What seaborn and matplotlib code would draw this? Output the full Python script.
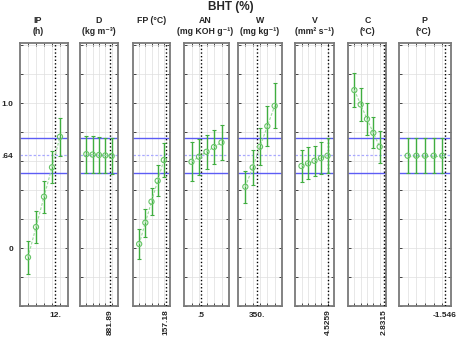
import numpy as np
import pandas as pd
import matplotlib
matplotlib.use('Agg')
import matplotlib.pyplot as plt
import seaborn as sns

# Profile fuer die Wuenschbarkeit - BHT (%)
headers = ['IP\n(h)', 'D\n(kg m⁻³)', 'FP (°C)', 'AN\n(mg KOH g⁻¹)',
           'W\n(mg kg⁻¹)', 'V\n(mm² s⁻¹)', 'C\n(°C)', 'P\n(°C)']
levels = [1, 2, 3, 4, 5]

ip_pred = [-0.064, 0.145, 0.354, 0.557, 0.768]
ip_err = [0.115, 0.108, 0.110, 0.110, 0.130]
d_pred = [0.648, 0.645, 0.642, 0.639, 0.635]
d_err = [0.128, 0.125, 0.122, 0.122, 0.125]
fp_pred = [0.028, 0.175, 0.320, 0.464, 0.607]
fp_err = [0.106, 0.097, 0.095, 0.107, 0.115]
an_pred = [0.595, 0.630, 0.664, 0.697, 0.729]
an_err = [0.135, 0.125, 0.118, 0.120, 0.123]
w_pred = [0.423, 0.556, 0.699, 0.841, 0.981]
w_err = [0.112, 0.122, 0.128, 0.140, 0.155]
v_pred = [0.566, 0.584, 0.602, 0.621, 0.637]
v_err = [0.113, 0.110, 0.104, 0.110, 0.120]
c_pred = [1.090, 0.991, 0.890, 0.795, 0.699]
c_err = [0.120, 0.112, 0.109, 0.107, 0.112]
p_pred = [0.637, 0.637, 0.637, 0.637, 0.637]
p_err = [0.120, 0.120, 0.120, 0.120, 0.120]

# aktuelle Faktorwerte (gepunktete Linie)
current = [4.37, 4.72, 5.28, 2.2, 2.65, 5.09, 5.74, 5.32]
current_labels = ['12.', '881.89', '157.18', '.5', '350.', '4.5259', '2.8315', '-1.546']
label_rotated = [False, True, True, False, False, True, True, False]

# Vorhersage und Konfidenzband
target = 0.64
band_low, band_high = 0.52, 0.76
ytick_vals = [0, 0.64, 1.0]
ytick_labels = ['0', '.64', '1.0']

preds = [ip_pred, d_pred, fp_pred, an_pred, w_pred, v_pred, c_pred, p_pred]
errs = [ip_err, d_err, fp_err, an_err, w_err, v_err, c_err, p_err]

##################################################################

W, H = 457, 340
boxes = [(20, 68), (80, 118), (133, 170), (184, 229), (238, 282), (295, 334), (348, 386), (399, 451)]
head_x = [38, 99, 152, 205, 260, 315, 368, 424]
top, bot = 43, 306

sns.set_style('white')
plt.rcParams['font.family'] = ['Liberation Sans', 'DejaVu Sans']

fig = plt.figure(figsize=(W / 100, H / 100), dpi=100)

for i in range(len(preds)):
    x0, x1 = boxes[i]
    ax = fig.add_axes([x0 / W, 1 - bot / H, (x1 - x0) / W, (bot - top) / H])
    df = pd.DataFrame({'level': levels, 'pred': preds[i], 'err': errs[i]})

    ax.axhline(band_high, color='#5c5cf5', lw=1.0, zorder=2)
    ax.axhline(band_low, color='#5c5cf5', lw=1.0, zorder=2)
    ax.axhline(target, color='#a9a9ff', lw=0.9, ls=(0, (2, 1.5)), zorder=2)
    ax.axvline(current[i], color='black', ls=(0, (1, 1.6)), lw=1.0, zorder=3)

    ax.errorbar(df['level'], df['pred'], yerr=df['err'], fmt='none',
                ecolor='#40ad40', elinewidth=1.0, capsize=1.5, capthick=0.8, zorder=4)
    sns.lineplot(data=df, x='level', y='pred', ax=ax, color='#9adc9a',
                 lw=0.8, linestyle=(0, (2.5, 1.5)), zorder=4)
    sns.scatterplot(data=df, x='level', y='pred', ax=ax, marker='o', s=14,
                    facecolor='none', edgecolor='#66c466', linewidth=0.8, zorder=5)

    ax.set_xlim(0, 6)
    ax.set_ylim(-0.4, 1.415)
    ax.set_xlabel('')
    ax.set_ylabel('')
    ax.xaxis.remove_overlapping_locs = False
    ax.yaxis.remove_overlapping_locs = False

    ax.set_xticks(levels, minor=True)
    ax.set_yticks([-0.4, -0.2, 0, 0.2, 0.4, 0.6, 0.8, 1.0, 1.2, 1.4], minor=True)
    ax.set_xticks([current[i]])
    ax.set_xticklabels([current_labels[i]], rotation=90 if label_rotated[i] else 0,
                       fontsize=6, fontweight='bold', va='top')
    ax.set_yticks(ytick_vals)
    if i == 0:
        ax.set_yticklabels(ytick_labels, fontsize=6, fontweight='bold')
    else:
        ax.set_yticklabels([])

    ax.tick_params(which='major', length=0, pad=2.5 if label_rotated[i] else 4)
    ax.tick_params(axis='y', which='major', pad=5)
    ax.tick_params(which='minor', direction='in', length=2.5, width=0.7, color='#444444',
                   top=True, bottom=True, left=True, right=True)
    ax.grid(which='minor', color='#dedede', lw=0.5)
    ax.grid(which='major', visible=False)
    for s in ax.spines.values():
        s.set_color('#7a7a7a')
        s.set_linewidth(1.3)

    fig.text(head_x[i] / W, 1 - 16 / H, headers[i], ha='center', va='top',
             fontsize=6.3, fontweight='bold', linespacing=1.35)

fig.text(231 / W, 1 - 7 / H, 'BHT (%)', ha='center', va='center', fontsize=8.5, fontweight='bold')

plt.savefig('out.png', dpi=100)
